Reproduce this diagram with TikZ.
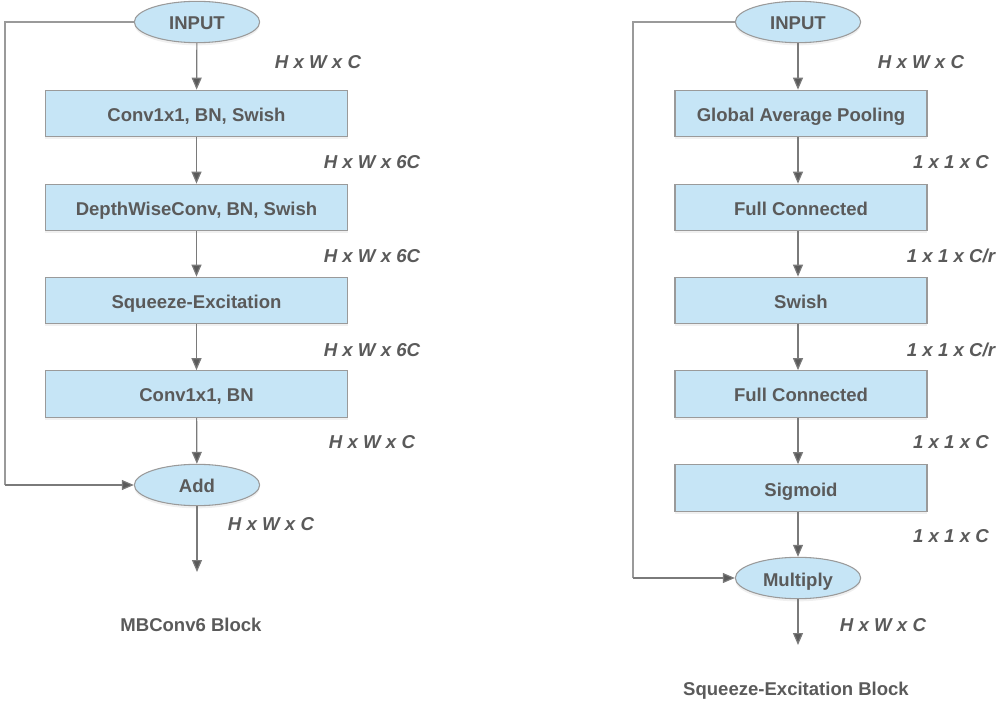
\documentclass[tikz,border=0pt]{standalone}
\usepackage{fontspec}
\setmainfont{Liberation Sans}
\usetikzlibrary{shapes.geometric,arrows.meta,shadows}
\definecolor{boxfill}{HTML}{C6E5F6}
\definecolor{boxline}{HTML}{9A9A9A}
\definecolor{txt}{HTML}{5A5A5A}
\definecolor{wire}{HTML}{7A7A7A}
\tikzset{
  stage/.style={draw=boxline, fill=boxfill, line width=0.8pt, minimum height=35pt,
    text height=12pt, text depth=0pt,
    font=\fontsize{13.9}{15}\selectfont\bfseries, text=txt,
    drop shadow={opacity=0.12, shadow xshift=0pt, shadow yshift=-2pt}},
  oval/.style={ellipse, draw=boxline, fill=boxfill, line width=0.8pt,
    minimum width=94pt, minimum height=31pt, inner sep=0pt,
    text height=12pt, text depth=0pt,
    font=\fontsize{13.9}{15}\selectfont\bfseries, text=txt,
    drop shadow={opacity=0.12, shadow xshift=0pt, shadow yshift=-2pt}},
  dim/.style={font=\fontsize{14}{15}\selectfont\bfseries\itshape, text=txt},
  caption/.style={font=\fontsize{13.9}{15}\selectfont\bfseries, text=txt},
  flow/.style={draw=wire, line width=0.9pt, -{Triangle[width=7.5pt,length=9pt,fill=txt]}},
  link/.style={draw=boxline, line width=0.9pt}
}
\begin{document}
\begin{tikzpicture}[x=0.75pt, y=-0.75pt]
\useasboundingbox (0,0) rectangle (997,702);

% ---------- MBConv6 block ----------
\node[oval] (inA) at (197,22) {INPUT};
\node[stage, minimum width=227pt] (c1) at (196.5,113.5) {Conv1x1, BN, Swish};
\node[stage, minimum width=227pt] (c2) at (196.5,207.5) {DepthWiseConv, BN, Swish};
\node[stage, minimum width=227pt] (c3) at (196.5,300.5) {Squeeze-Excitation};
\node[stage, minimum width=227pt] (c4) at (196.5,394) {Conv1x1, BN};
\node[oval] (add) at (197,485) {Add};
\coordinate (outA) at (197,572);
\coordinate (skA1) at (5,22);
\coordinate (skA2) at (5,485);

\draw[flow] (inA) -- (c1);
\draw[flow] (c1) -- (c2);
\draw[flow] (c2) -- (c3);
\draw[flow] (c3) -- (c4);
\draw[flow] (c4) -- (add);
\draw[flow] (add) -- (outA);
\draw[link] (inA.west) -- (skA1) -- (skA2);
\draw[flow] (skA2) -- (add.west);

\node[dim] (dA0) at (318,62) {H x W x C};
\node[dim] (dA1) at (372,162) {H x W x 6C};
\node[dim] (dA2) at (372,256) {H x W x 6C};
\node[dim] (dA3) at (372,350) {H x W x 6C};
\node[dim] (dA4) at (372,442) {H x W x C};
\node[dim] (dA5) at (271,524) {H x W x C};
\node[caption] (capA) at (191,625) {MBConv6 Block};

% ---------- Squeeze-Excitation block ----------
\node[oval] (inB) at (798,22) {INPUT};
\node[stage, minimum width=189pt] (s1) at (801,113.5) {Global Average Pooling};
\node[stage, minimum width=189pt] (s2) at (801,207.5) {Full Connected};
\node[stage, minimum width=189pt] (s3) at (801,300.5) {Swish};
\node[stage, minimum width=189pt] (s4) at (801,394) {Full Connected};
\node[stage, minimum width=189pt] (s5) at (801,488) {Sigmoid};
\node[oval] (mul) at (798,578) {Multiply};
\coordinate (outB) at (798,645);
\coordinate (skB1) at (633,22);
\coordinate (skB2) at (633,578);

\draw[flow] (inB) -- (inB |- s1.north);
\draw[flow] (inB |- s1.south) -- (inB |- s2.north);
\draw[flow] (inB |- s2.south) -- (inB |- s3.north);
\draw[flow] (inB |- s3.south) -- (inB |- s4.north);
\draw[flow] (inB |- s4.south) -- (inB |- s5.north);
\draw[flow] (inB |- s5.south) -- (mul);
\draw[flow] (mul) -- (outB);
\draw[link] (inB.west) -- (skB1) -- (skB2);
\draw[flow] (skB2) -- (mul.west);

\node[dim] (dB0) at (921,62) {H x W x C};
\node[dim] (dB1) at (951,162) {1 x 1 x C};
\node[dim] (dB2) at (951,256) {1 x 1 x C/r};
\node[dim] (dB3) at (951,350) {1 x 1 x C/r};
\node[dim] (dB4) at (951,442) {1 x 1 x C};
\node[dim] (dB5) at (951,536) {1 x 1 x C};
\node[dim] (dB6) at (883,625) {H x W x C};
\node[caption] (capB) at (796,691) {Squeeze-Excitation Block};
\end{tikzpicture}
\end{document}
